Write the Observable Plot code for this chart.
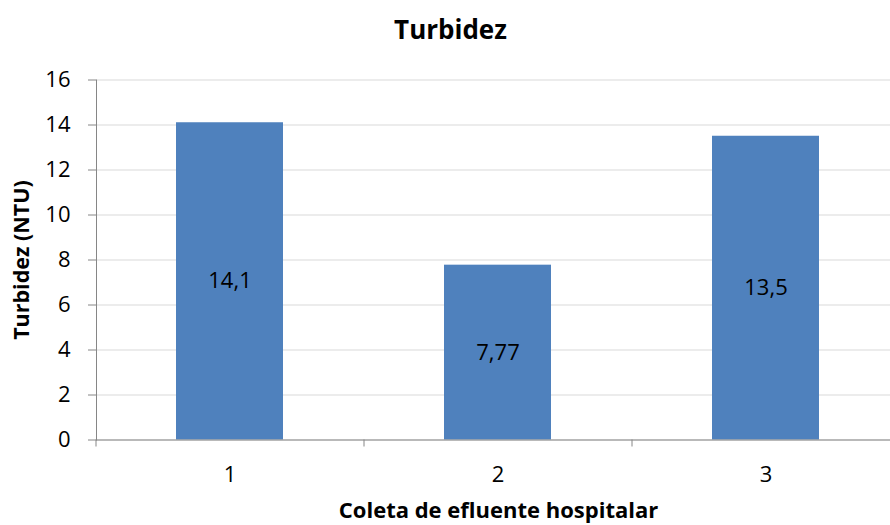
<!DOCTYPE html>
<html>
<head>
<meta charset="utf-8">
<script src="https://cdn.jsdelivr.net/npm/d3@7"></script>
<script src="https://cdn.jsdelivr.net/npm/@observablehq/plot@0.6"></script>
<style>
  html, body { margin: 0; padding: 0; background: #fff; overflow: hidden; }
  #chart { width: 890px; height: 525px; }
</style>
</head>
<body>
<div id="chart"></div>
<script>
const categories = ["1", "2", "3"];
const values = [14.1, 7.77, 13.5];
const valueLabels = ["14,1", "7,77", "13,5"];
const yTicks = [0, 2, 4, 6, 8, 10, 12, 14, 16];
const title = "Turbidez";
const yTitle = "Turbidez (NTU)";
const xTitle = "Coleta de efluente hospitalar";

const data = categories.map((c, i) => ({cat: c, value: values[i], label: valueLabels[i]}));

const W = 890, H = 525;
const mLeft = 96, mRight = -10, mTop = 79.5, mBottom = 85.5;
const step = (W - mLeft - mRight) / categories.length;

const plot = Plot.plot({
  width: W,
  height: H,
  marginLeft: mLeft,
  marginRight: mRight,
  marginTop: mTop,
  marginBottom: mBottom,
  style: {fontFamily: "'Open Sans', sans-serif", background: "#fff", color: "#000"},
  x: {domain: categories, paddingInner: 0.6, paddingOuter: 0.3, label: null},
  y: {domain: [0, 16], label: null},
  marks: [
    Plot.gridY(yTicks, {stroke: "#d9d9d9", strokeOpacity: 1, strokeWidth: 1.2}),
    Plot.barY(data, {x: "cat", y: "value", fill: "#4f81bd"}),
    Plot.text(data, {x: "cat", y: d => d.value / 2, text: "label", fontSize: 22, fill: "#000"}),
    Plot.frame({anchor: "left", stroke: "#868686"}),
    Plot.ruleY([0], {stroke: "#868686"}),
    Plot.axisY(yTicks, {tickSize: 8, tickFormat: () => "", stroke: "#868686", label: null}),
    Plot.axisY(yTicks, {tickSize: 0, tickPadding: 26, fontSize: 22, fill: "#000", label: null}),
    Plot.axisX({tickSize: 7, tickFormat: () => "", dx: -step / 2, stroke: "#868686", label: null}),
    Plot.axisX({tickSize: 0, tickPadding: 26, fontSize: 22, fill: "#000", label: null}),
    Plot.text([title], {frameAnchor: "top", lineAnchor: "middle", textAnchor: "middle", dx: -48, dy: -49.5, fontSize: 26, fontWeight: "bold", fill: "#000"}),
    Plot.text([yTitle], {frameAnchor: "left", lineAnchor: "middle", textAnchor: "middle", rotate: -90, dx: -74, fontSize: 21.5, fontWeight: "bold", fill: "#000"}),
    Plot.text([xTitle], {frameAnchor: "bottom", lineAnchor: "middle", textAnchor: "middle", dy: 71, fontSize: 22, fontWeight: "bold", fill: "#000"})
  ]
});
document.getElementById("chart").appendChild(plot);
</script>
</body>
</html>
